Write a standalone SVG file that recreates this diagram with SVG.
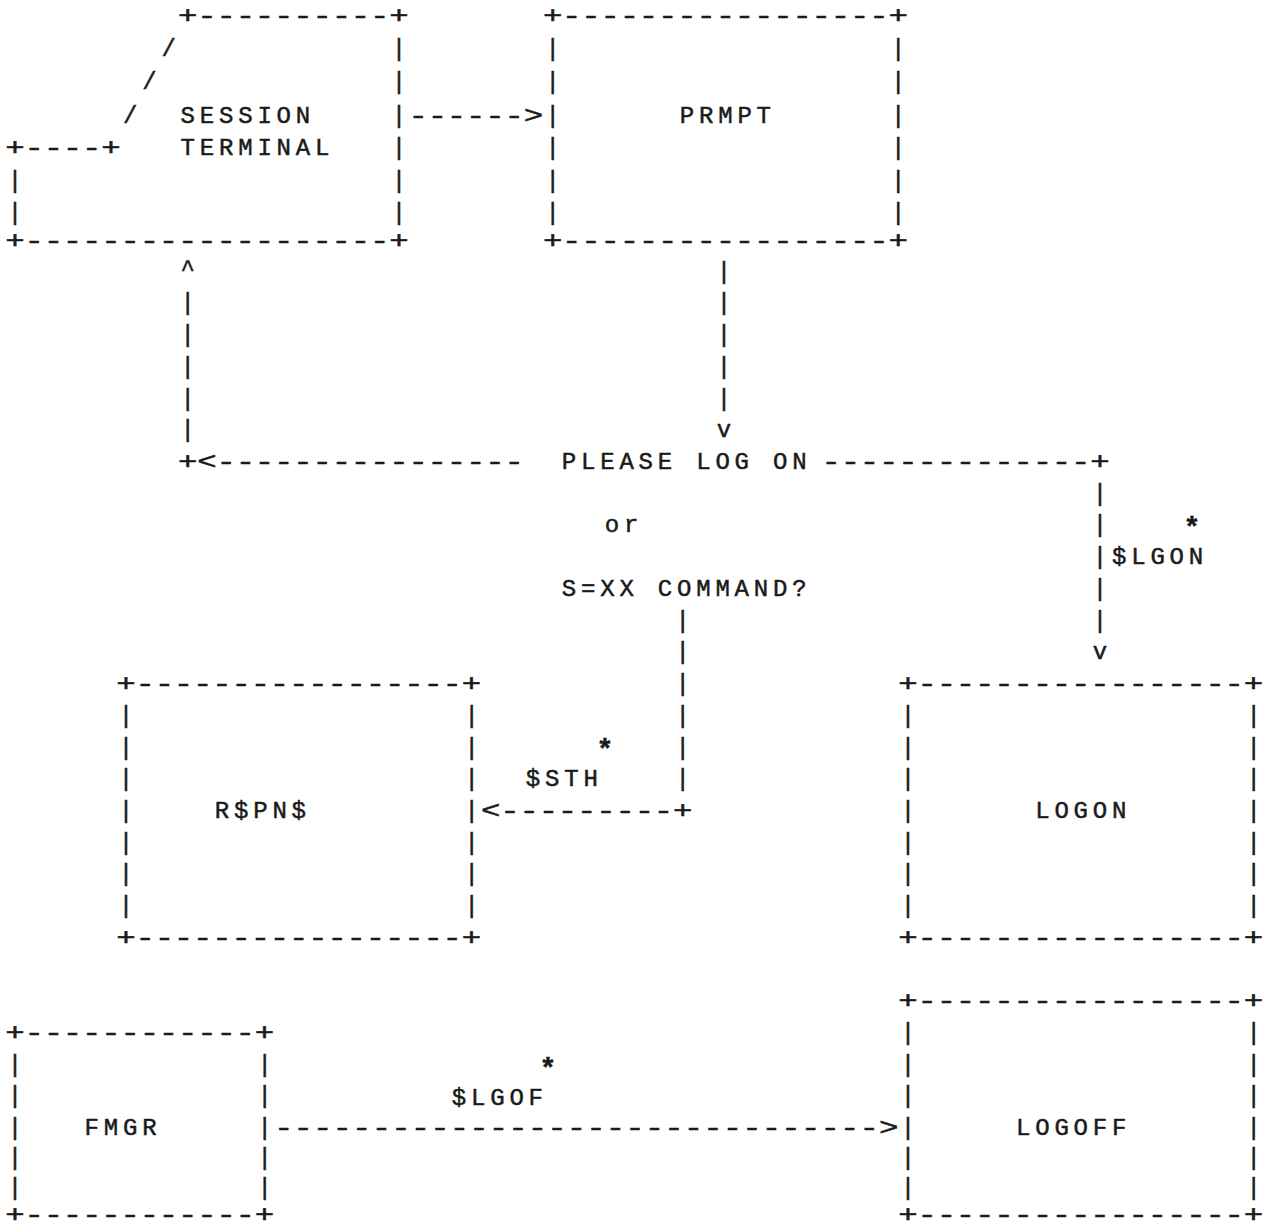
<svg xmlns="http://www.w3.org/2000/svg" width="1265" height="1230" viewBox="0 0 1265 1230">
<style>
.t{font-family:"Liberation Mono","DejaVu Sans Mono",monospace;font-size:24px;letter-spacing:4.8px;fill:#1a1a1a;stroke:#1a1a1a;stroke-width:0.5px;}
.h{letter-spacing:-0.178px;}
.s{font-size:28px;font-weight:bold;letter-spacing:0;}
</style>
<rect x="0" y="0" width="1265" height="1230" fill="#fff"/>
<g id="session-terminal" class="t">
<text class="h" transform="translate(178.08,22.9) scale(1.35,1)">+----------+</text>
<text x="161.4" y="55.9">/</text><text x="391.8" y="55.9">|</text>
<text x="142.2" y="88.9">/</text><text x="391.8" y="88.9">|</text>
<text x="123" y="122.9">/</text><text x="180.6" y="122.9">SESSION</text><text x="391.8" y="122.9">|</text>
<text class="h" transform="translate(5.28,154.9) scale(1.35,1)">+----+</text><text x="180.6" y="154.9">TERMINAL</text><text x="391.8" y="154.9">|</text>
<text x="7.8" y="187.9">|</text><text x="391.8" y="187.9">|</text>
<text x="7.8" y="219.9">|</text><text x="391.8" y="219.9">|</text>
<text class="h" transform="translate(5.28,247.9) scale(1.35,1)">+-------------------+</text>
</g>
<g id="prmpt" class="t">
<text class="h" transform="translate(542.88,22.9) scale(1.35,1)">+-----------------+</text>
<text x="545.4" y="55.9">|</text><text x="891" y="55.9">|</text>
<text x="545.4" y="88.9">|</text><text x="891" y="88.9">|</text>
<text x="545.4" y="122.9">|</text><text x="679.8" y="122.9">PRMPT</text><text x="891" y="122.9">|</text>
<text x="545.4" y="154.9">|</text><text x="891" y="154.9">|</text>
<text x="545.4" y="187.9">|</text><text x="891" y="187.9">|</text>
<text x="545.4" y="219.9">|</text><text x="891" y="219.9">|</text>
<text class="h" transform="translate(542.88,247.9) scale(1.35,1)">+-----------------+</text>
</g>
<g id="prompt-message" class="t">
<text x="561.8" y="469">PLEASE LOG ON</text>
<text x="604.8" y="532.4">or</text>
<text x="561.8" y="595.9">S=XX COMMAND?</text>
</g>
<g id="rspns" class="t">
<text class="h" transform="translate(116.28,691) scale(1.35,1)">+-----------------+</text>
<text x="118.8" y="722.7">|</text><text x="464.4" y="722.7">|</text>
<text x="118.8" y="754.5">|</text><text x="464.4" y="754.5">|</text>
<text x="118.8" y="786.2">|</text><text x="464.4" y="786.2">|</text>
<text x="118.8" y="817.9">|</text><text x="214.8" y="817.9">R$PN$</text><text x="464.4" y="817.9">|</text>
<text x="118.8" y="849.6">|</text><text x="464.4" y="849.6">|</text>
<text x="118.8" y="881.3">|</text><text x="464.4" y="881.3">|</text>
<text x="118.8" y="913">|</text><text x="464.4" y="913">|</text>
<text class="h" transform="translate(116.28,944.8) scale(1.35,1)">+-----------------+</text>
</g>
<g id="logon" class="t">
<text class="h" transform="translate(898.28,691) scale(1.35,1)">+-----------------+</text>
<text x="900.8" y="722.7">|</text><text x="1246.4" y="722.7">|</text>
<text x="900.8" y="754.5">|</text><text x="1246.4" y="754.5">|</text>
<text x="900.8" y="786.2">|</text><text x="1246.4" y="786.2">|</text>
<text x="900.8" y="817.9">|</text><text x="1035.2" y="817.9">LOGON</text><text x="1246.4" y="817.9">|</text>
<text x="900.8" y="849.6">|</text><text x="1246.4" y="849.6">|</text>
<text x="900.8" y="881.3">|</text><text x="1246.4" y="881.3">|</text>
<text x="900.8" y="913">|</text><text x="1246.4" y="913">|</text>
<text class="h" transform="translate(898.28,944.8) scale(1.35,1)">+-----------------+</text>
</g>
<g id="fmgr" class="t">
<text class="h" transform="translate(5.28,1039.9) scale(1.35,1)">+------------+</text>
<text x="7.8" y="1071.7">|</text><text x="257.4" y="1071.7">|</text>
<text x="7.8" y="1103.4">|</text><text x="257.4" y="1103.4">|</text>
<text x="7.8" y="1135.1">|</text><text x="84.6" y="1135.1">FMGR</text><text x="257.4" y="1135.1">|</text>
<text x="7.8" y="1165">|</text><text x="257.4" y="1165">|</text>
<text x="7.8" y="1194.5">|</text><text x="257.4" y="1194.5">|</text>
<text class="h" transform="translate(5.28,1222) scale(1.35,1)">+------------+</text>
</g>
<g id="logoff" class="t">
<text class="h" transform="translate(898.28,1008.2) scale(1.35,1)">+-----------------+</text>
<text x="900.8" y="1039.9">|</text><text x="1246.4" y="1039.9">|</text>
<text x="900.8" y="1071.7">|</text><text x="1246.4" y="1071.7">|</text>
<text x="900.8" y="1103.4">|</text><text x="1246.4" y="1103.4">|</text>
<text x="900.8" y="1135.1">|</text><text x="1016" y="1135.1">LOGOFF</text><text x="1246.4" y="1135.1">|</text>
<text x="900.8" y="1165">|</text><text x="1246.4" y="1165">|</text>
<text x="900.8" y="1194.5">|</text><text x="1246.4" y="1194.5">|</text>
<text class="h" transform="translate(898.28,1222) scale(1.35,1)">+-----------------+</text>
</g>
<g id="connectors" class="t">
<text class="h" transform="translate(408.48,122.9) scale(1.35,1)">------&gt;</text>
<text x="716.8" y="278.7">|</text>
<text x="716.8" y="310.4">|</text>
<text x="716.8" y="342.1">|</text>
<text x="716.8" y="373.8">|</text>
<text x="716.8" y="405.5">|</text>
<text x="716.8" y="437.3">v</text>
<text x="180.6" y="276">^</text>
<text x="180.6" y="310.4">|</text>
<text x="180.6" y="342.1">|</text>
<text x="180.6" y="373.8">|</text>
<text x="180.6" y="405.5">|</text>
<text x="180.6" y="437.3">|</text>
<text class="h" transform="translate(178.08,469) scale(1.35,1)">+&lt;----------------</text>
<text class="h" transform="translate(821.48,469) scale(1.35,1)">--------------+</text>
<text x="1092.8" y="500.7">|</text>
<text x="1092.8" y="532.4">|</text>
<text class="s" x="1183.6" y="535.5">*</text>
<text x="1092.8" y="564.1">|</text><text x="1112" y="564.1">$LGON</text>
<text x="1092.8" y="595.9">|</text>
<text x="1092.8" y="627.6">|</text>
<text x="1092.8" y="659.3">v</text>
<text x="675.6" y="627.6">|</text>
<text x="675.6" y="659.3">|</text>
<text x="675.6" y="691">|</text>
<text x="675.6" y="722.7">|</text>
<text x="675.6" y="754.5">|</text>
<text class="s" x="596.6" y="757.5">*</text>
<text x="675.6" y="786.2">|</text>
<text x="525.8" y="786.2">$STH</text>
<text class="h" transform="translate(481.08,817.9) scale(1.35,1)">&lt;---------+</text>
<text class="s" x="539.6" y="1076.5">*</text>
<text x="451.8" y="1105">$LGOF</text>
<text class="h" transform="translate(274.08,1135.1) scale(1.35,1)" style="letter-spacing:0.056px">-------------------------------&gt;</text>
</g>
</svg>
